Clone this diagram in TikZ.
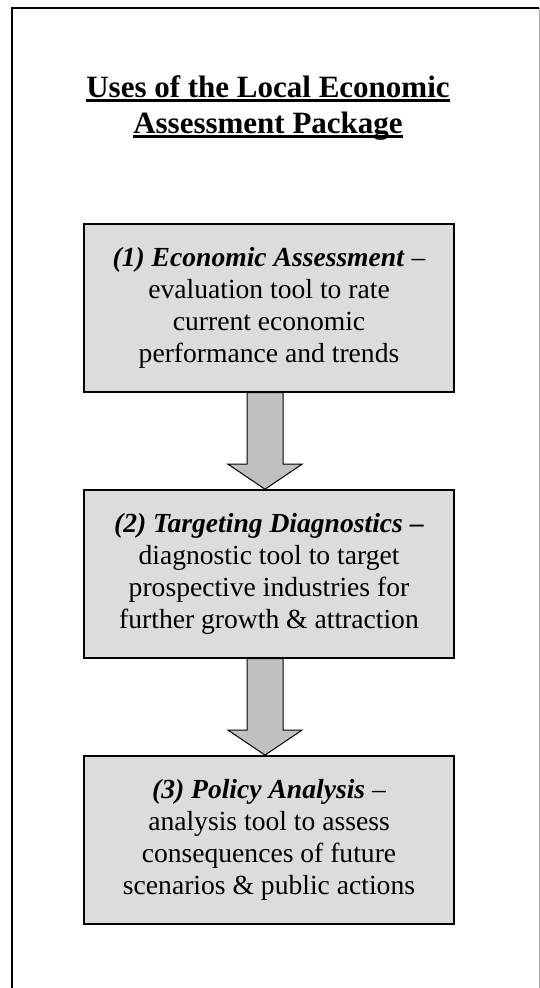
\documentclass[tikz,border=0pt]{standalone}
\usepackage{fontspec}
\setmainfont{Liberation Serif}
\usetikzlibrary{positioning, calc}
\definecolor{grisCaja}{HTML}{DCDCDC}
\definecolor{grisFlecha}{HTML}{C0C0C0}
\definecolor{grisMarco}{HTML}{A8A8A8}
\newcommand{\subrayado}[1]{\setbox0\hbox{#1}\rlap{\rule[-4.5pt]{\wd0}{2.6pt}}\box0}

\begin{document}
\begin{tikzpicture}[x=1pt, y=1pt, node distance=96.5pt,
        caja/.style={draw=black, line width=1.4pt, fill=grisCaja, minimum width=370pt,
            minimum height=168pt, inner sep=0pt, align=center,
            font=\fontsize{27.6}{32.2}\selectfont},
        flecha/.style={draw=black, line width=1pt, fill=grisFlecha, line join=miter}]
        \useasboundingbox (0,0) rectangle (540,-988);
        \draw[line width=1.6pt] (12,-988) -- (12,-8) -- (539,-8);
        \draw[grisMarco, line width=1pt] (539,-8) -- (539,-988);
        \node[anchor=base, align=center, font=\fontsize{31}{36}\selectfont\bfseries] (titulo) at (268,-133)
            {\subrayado{Uses of the Local Economic}\\ \subrayado{Assessment Package}};
        \node[caja] (eval) at (269,-308) {\textbf{\textit{(1) Economic Assessment}} --\\
            evaluation tool to rate\\ current economic\\ performance and trends};
        \node[caja, below=of eval] (diag) {\textbf{\textit{(2) Targeting Diagnostics}} \textbf{--}\\
            diagnostic tool to target\\ prospective industries for\\ further growth \& attraction};
        \node[caja, below=of diag] (pol) {\textbf{\textit{(3) Policy Analysis}} --\\
            analysis tool to assess\\ consequences of future\\ scenarios \& public actions};
        \foreach \a/\b in {eval/diag, diag/pol}
            \draw[flecha] ($(\a.south)+(-22,0)$) -- ($(\a.south)+(14,0)$)
                -- ($(\b.north)+(14,25)$) -- ($(\b.north)+(33,25)$) -- ($(\b.north)+(-4,0)$)
                -- ($(\b.north)+(-41,25)$) -- ($(\b.north)+(-22,25)$) -- cycle;
    \end{tikzpicture}
\end{document}
